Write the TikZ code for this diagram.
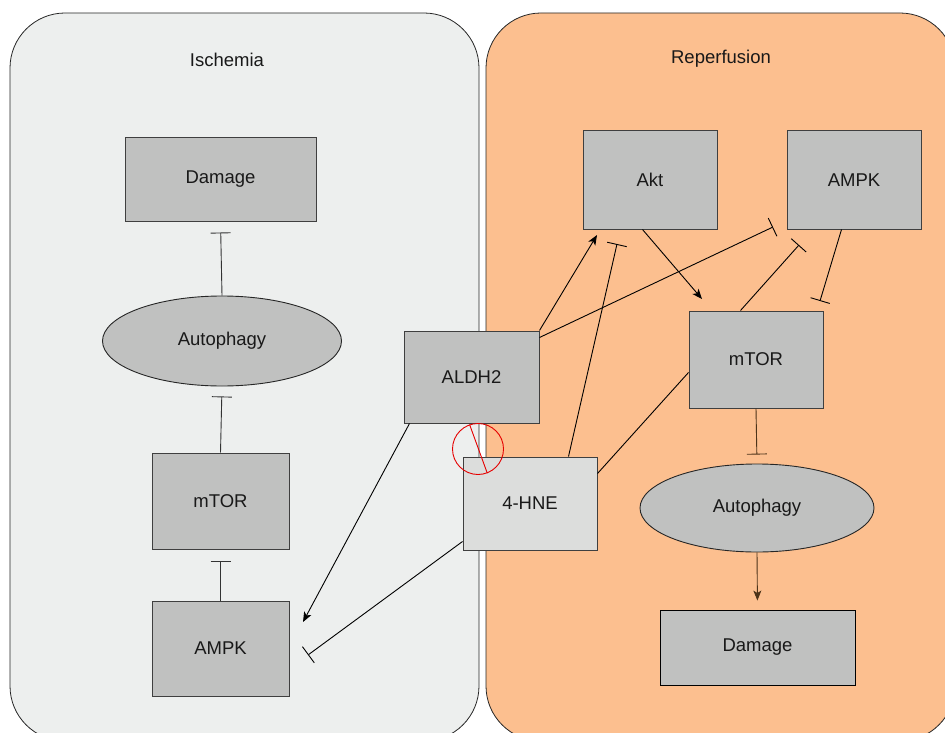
\documentclass[tikz,border=0pt]{standalone}
\usepackage{fontspec}
\setmainfont{Liberation Sans}
\usetikzlibrary{arrows.meta,calc,shapes.geometric}
\definecolor{panelL}{HTML}{EDEFEE}
\definecolor{panelR}{HTML}{FCBF8F}
\definecolor{boxgray}{HTML}{C0C1C0}
\definecolor{boxlight}{HTML}{DCDDDC}
\definecolor{edgegray}{HTML}{3F3F3F}
\begin{document}
\begin{tikzpicture}[x=1pt,y=-1pt,
  txt/.style={font=\fontsize{18.5}{21}\selectfont, text=black!90},
  panel/.style={draw=black!85, line width=0.8pt, rounded corners=55pt},
  gbox/.style={txt, rectangle, draw=edgegray, line width=1pt, fill=boxgray, inner sep=0pt},
  gell/.style={txt, ellipse, draw=black!85, line width=0.9pt, fill=boxgray, inner sep=0pt},
  act/.style={draw=black, line width=0.9pt, -{Stealth[length=10pt,width=8pt,inset=2.5pt]}},
  inh/.style={draw=black, line width=0.9pt, -{Bar[width=20pt,line width=0.9pt]}},
  vinh/.style={draw=black!80, line width=0.9pt, -{Bar[width=20pt,line width=0.9pt]}},
  link/.style={draw=black, line width=0.9pt},
  blocker/.style={circle, draw=red!90!black, line width=0.9pt, minimum size=51pt, inner sep=0pt}
]
\useasboundingbox (0,0) rectangle (945,733);
% panels
\path[panel, fill=panelL] (10,13) rectangle (479,741);
\path[panel, fill=panelR] (486,13) rectangle (955,741);
\node[txt] (titleL) at (227,60) {Ischemia};
\node[txt] (titleR) at (721,59) {Reperfusion};

% left column
\node[gbox, minimum width=191pt, minimum height=83pt] (dmgL) at (220.5,179.5) {Damage};
\node[gell, minimum width=239pt, minimum height=90pt] (autoL) at (222,341) {Autophagy};
\node[gbox, minimum width=137pt, minimum height=96pt] (mtorL) at (220.5,501) {mTOR};
\node[gbox, minimum width=137pt, minimum height=95pt] (ampkL) at (220.5,648.5) {AMPK};

% middle
\node[gbox, minimum width=135pt, minimum height=92pt] (aldh2) at (471.5,377) {ALDH2};
\node[gbox, fill=boxlight, minimum width=134pt, minimum height=93pt] (hne) at (530,503.5) {4-HNE};

% right column
\node[gbox, minimum width=134pt, minimum height=98pt] (akt) at (650,180) {Akt};
\node[gbox, minimum width=134pt, minimum height=98pt] (ampkR) at (854,180) {AMPK};
\node[gbox, minimum width=134pt, minimum height=97pt] (mtorR) at (756,359.5) {mTOR};
\node[gell, minimum width=234pt, minimum height=88pt] (autoR) at (757,508) {Autophagy};
\node[gbox, draw=black, line width=0.9pt, minimum width=195pt, minimum height=75pt] (dmgR) at (757.5,647.5) {Damage};

% free ends
\coordinate (eAmpkL1) at (303,622);
\coordinate (eAmpkL2) at (308,655);
\coordinate (eAkt1) at (597,235);
\coordinate (eAkt2) at (617,244);
\coordinate (eAmpkR1) at (773,227);
\coordinate (eAmpkR2) at (799,245);
\coordinate (eMtorR1) at (702,299);
\coordinate (eMtorR2) at (820,301);

% left connectors
\draw[vinh, shorten >=11pt] (autoL.north) -- (dmgL.south);
\draw[vinh, shorten >=10pt] (mtorL.north) -- (autoL.south);
\draw[vinh, shorten >=11pt] (ampkL.north) -- (mtorL.south);

% cross connectors
\draw[act] ($(aldh2.south west)+(6,0)$) -- (eAmpkL1);
\draw[inh] ($(hne.south west)+(0,-9)$) -- (eAmpkL2);
\draw[act] (aldh2.north east) -- (eAkt1);
\draw[inh] ($(aldh2.north east)+(0,7)$) -- (eAmpkR1);
\draw[inh] ($(hne.north west)+(106,0)$) -- (eAkt2);
\draw[act] ($(akt.south west)+(60,0)$) -- (eMtorR1);
\draw[inh] ($(mtorR.north west)+(52,0)$) -- (eAmpkR2);
\draw[inh] ($(ampkR.south west)+(55,0)$) -- (eMtorR2);
\draw[link] ($(hne.north east)+(0,17)$) -- ($(mtorR.south west)+(0,-36)$);

% right vertical connectors
\draw[vinh, draw=black!60!brown, shorten >=9pt] (mtorR.south) -- (autoR.north);
\draw[act, draw=black!60!brown, shorten >=9pt] (autoR.south) -- (dmgR.north);

% blocked interaction
\node[blocker] (blk) at (478,449) {};
\draw[draw=red!90!black, line width=0.9pt] (blk.109) -- (blk.-69);
\end{tikzpicture}
\end{document}
